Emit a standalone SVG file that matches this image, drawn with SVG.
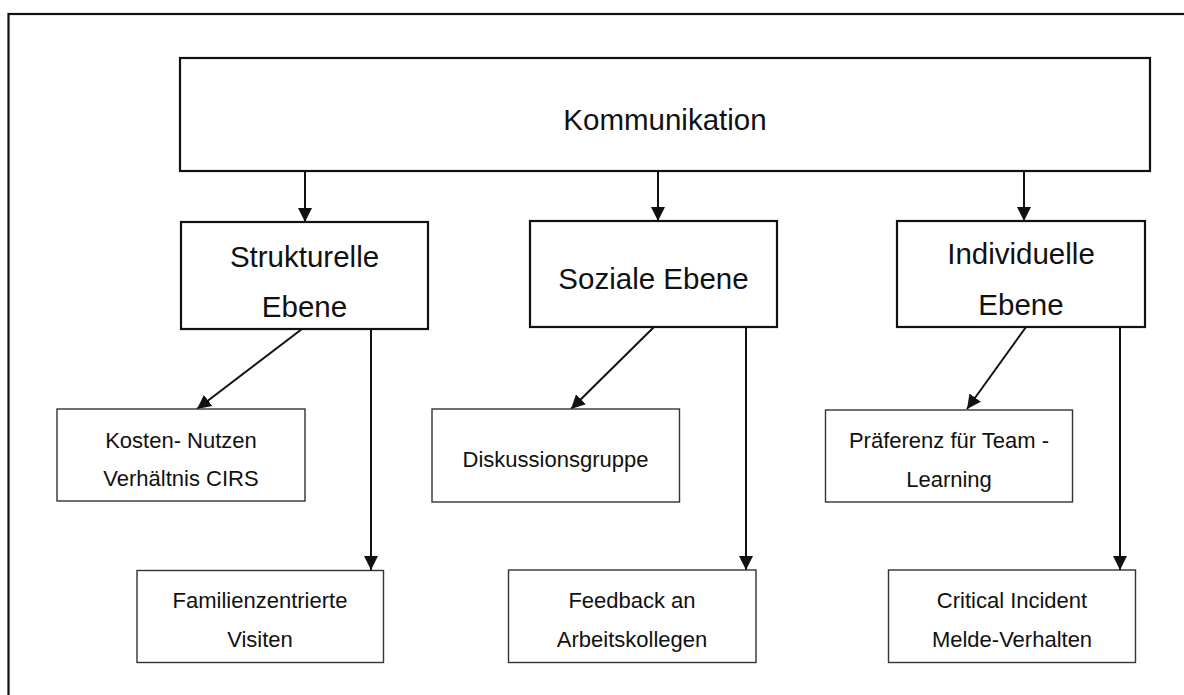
<svg xmlns="http://www.w3.org/2000/svg" width="1184" height="695" viewBox="0 0 1184 695">
  <style>
    .big { fill: #fff; stroke: #111; stroke-width: 2.2; }
    .small { fill: #fff; stroke: #333; stroke-width: 1.4; }
    .t1 { font-family: "Liberation Sans", Arial, sans-serif; font-size: 29.5px; fill: #111; text-anchor: middle; }
    .t2 { font-family: "Liberation Sans", Arial, sans-serif; font-size: 22px; fill: #111; text-anchor: middle; }
    .edge { stroke: #111; stroke-width: 2; fill: none; marker-end: url(#arrow); }
  </style>
  <defs>
    <marker id="arrow" markerUnits="userSpaceOnUse" markerWidth="15" markerHeight="15" refX="14" refY="7" orient="auto" viewBox="0 0 15 14">
      <path d="M0,0 L14,7 L0,14 z" fill="#111"/>
    </marker>
  </defs>
  <rect x="0" y="0" width="1184" height="695" fill="#fff"/>
  <rect id="frame" x="8.5" y="14" width="1200" height="720" fill="none" stroke="#111" stroke-width="2.2"/>

  <g id="connectors">
    <line class="edge" x1="305" y1="171" x2="305" y2="222"/>
    <line class="edge" x1="658" y1="171" x2="658" y2="221"/>
    <line class="edge" x1="1024" y1="171" x2="1024" y2="221"/>
    <line class="edge" x1="302" y1="329" x2="197" y2="409"/>
    <line class="edge" x1="371" y1="329" x2="371" y2="570"/>
    <line class="edge" x1="654" y1="327" x2="571" y2="409"/>
    <line class="edge" x1="746" y1="327" x2="746" y2="570"/>
    <line class="edge" x1="1026" y1="327" x2="967" y2="409"/>
    <line class="edge" x1="1120" y1="327" x2="1120" y2="570"/>
  </g>

  <g id="kommunikation">
    <rect class="big" x="180" y="58" width="970" height="113"/>
    <text class="t1" x="665" y="130">Kommunikation</text>
  </g>

  <g id="strukturelle">
    <rect class="big" x="181" y="222" width="247" height="107"/>
    <text class="t1" x="304.5" y="267">Strukturelle</text>
    <text class="t1" x="304.5" y="317">Ebene</text>
  </g>

  <g id="soziale">
    <rect class="big" x="530" y="221" width="247" height="106"/>
    <text class="t1" x="653.5" y="289">Soziale Ebene</text>
  </g>

  <g id="individuelle">
    <rect class="big" x="897" y="221" width="248" height="106"/>
    <text class="t1" x="1021" y="264">Individuelle</text>
    <text class="t1" x="1021" y="315">Ebene</text>
  </g>

  <g id="kosten">
    <rect class="small" x="57" y="409" width="248" height="92"/>
    <text class="t2" x="181" y="448">Kosten- Nutzen</text>
    <text class="t2" x="181" y="486">Verhältnis CIRS</text>
  </g>

  <g id="familien">
    <rect class="small" x="137" y="570.5" width="246.5" height="92"/>
    <text class="t2" x="260" y="608">Familienzentrierte</text>
    <text class="t2" x="260" y="647">Visiten</text>
  </g>

  <g id="diskussion">
    <rect class="small" x="432" y="409" width="247.5" height="93"/>
    <text class="t2" x="555.5" y="466.5">Diskussionsgruppe</text>
  </g>

  <g id="feedback">
    <rect class="small" x="508.5" y="570" width="247.5" height="92.5"/>
    <text class="t2" x="632" y="608">Feedback an</text>
    <text class="t2" x="632" y="647">Arbeitskollegen</text>
  </g>

  <g id="praeferenz">
    <rect class="small" x="825.5" y="410" width="247" height="92"/>
    <text class="t2" x="949" y="448">Präferenz für Team -</text>
    <text class="t2" x="949" y="486.5">Learning</text>
  </g>

  <g id="critical">
    <rect class="small" x="888.5" y="570" width="247" height="92.5"/>
    <text class="t2" x="1012" y="608">Critical Incident</text>
    <text class="t2" x="1012" y="646.5">Melde-Verhalten</text>
  </g>
</svg>
